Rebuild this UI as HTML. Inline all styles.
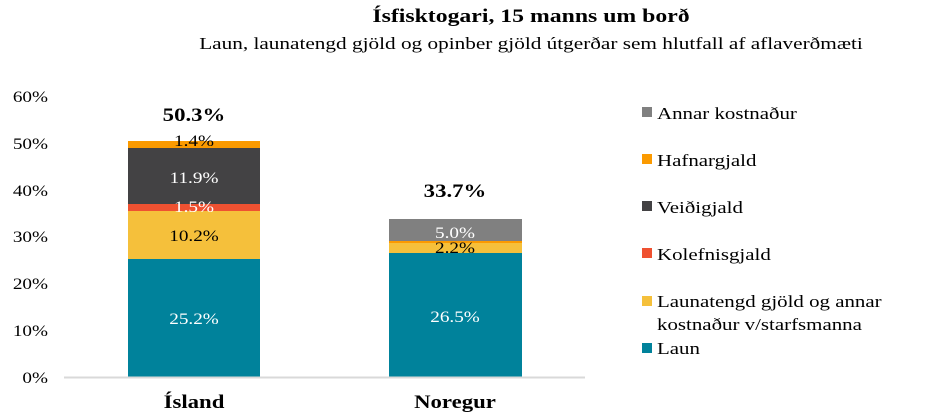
<!DOCTYPE html>
<html><head><meta charset="utf-8"><style>
html,body{margin:0;padding:0;background:#fff}
svg{display:block;font-family:"Liberation Serif",serif}
</style></head><body>
<svg width="943" height="412" viewBox="0 0 943 412">
<text transform="translate(531 22) scale(1.25 1)" text-anchor="middle" font-size="19" font-weight="bold">Ísfisktogari, 15 manns um borð</text>
<text transform="translate(531 49) scale(1.25 1)" text-anchor="middle" font-size="17">Laun, launatengd gjöld og opinber gjöld útgerðar sem hlutfall af aflaverðmæti</text>
<g font-size="16" text-anchor="end">
<text transform="translate(48 383) scale(1.2 1)">0%</text>
<text transform="translate(48 336) scale(1.2 1)">10%</text>
<text transform="translate(48 289) scale(1.2 1)">20%</text>
<text transform="translate(48 242) scale(1.2 1)">30%</text>
<text transform="translate(48 196) scale(1.2 1)">40%</text>
<text transform="translate(48 149) scale(1.2 1)">50%</text>
<text transform="translate(48 102) scale(1.2 1)">60%</text>
</g>
<rect x="128" y="259" width="132" height="118" fill="#00829b"/>
<rect x="128" y="211" width="132" height="48" fill="#f5c03b"/>
<rect x="128" y="204" width="132" height="7" fill="#ef5131"/>
<rect x="128" y="148" width="132" height="56" fill="#434244"/>
<rect x="128" y="141" width="132" height="7" fill="#fb9a00"/>
<rect x="389" y="253" width="133" height="124" fill="#00829b"/>
<rect x="389" y="242" width="133" height="11" fill="#f5c03b"/>
<rect x="389" y="241" width="133" height="2" fill="#fb9a00"/>
<rect x="389" y="219" width="133" height="22" fill="#808080"/>
<line x1="64" y1="377.5" x2="585" y2="377.5" stroke="#d9d9d9" stroke-width="2"/>
<g font-size="16" text-anchor="middle">
<text transform="translate(194 324) scale(1.2 1)" fill="#fff">25.2%</text>
<text transform="translate(194 241) scale(1.2 1)">10.2%</text>
<text transform="translate(194 212) scale(1.2 1)" fill="#fff">1.5%</text>
<text transform="translate(194 183) scale(1.2 1)" fill="#fff">11.9%</text>
<text transform="translate(194 146) scale(1.2 1)">1.4%</text>
<text transform="translate(455 322) scale(1.2 1)" fill="#fff">26.5%</text>
<text transform="translate(455 253) scale(1.2 1)">2.2%</text>
<text transform="translate(455 238) scale(1.2 1)" fill="#fff">5.0%</text>
</g>
<g font-size="19" font-weight="bold" text-anchor="middle">
<text transform="translate(194 121) scale(1.2 1)">50.3%</text>
<text transform="translate(455 197) scale(1.2 1)">33.7%</text>
<text transform="translate(194 408) scale(1.2 1)">Ísland</text>
<text transform="translate(455 408) scale(1.2 1)">Noregur</text>
</g>
<g font-size="17">
<rect x="642" y="107" width="10" height="10" fill="#808080"/><text transform="translate(657 119) scale(1.23 1)">Annar kostnaður</text>
<rect x="642" y="154" width="10" height="10" fill="#fb9a00"/><text transform="translate(657 166) scale(1.23 1)">Hafnargjald</text>
<rect x="642" y="201" width="10" height="10" fill="#434244"/><text transform="translate(657 213) scale(1.23 1)">Veiðigjald</text>
<rect x="642" y="248" width="10" height="10" fill="#ef5131"/><text transform="translate(657 260) scale(1.23 1)">Kolefnisgjald</text>
<rect x="642" y="296" width="10" height="10" fill="#f5c03b"/><text transform="translate(657 307) scale(1.23 1)">Launatengd gjöld og annar</text>
<text transform="translate(657 330) scale(1.23 1)">kostnaður v/starfsmanna</text>
<rect x="642" y="343" width="10" height="10" fill="#00829b"/><text transform="translate(657 354) scale(1.23 1)">Laun</text>
</g>
</svg>
</body></html>
